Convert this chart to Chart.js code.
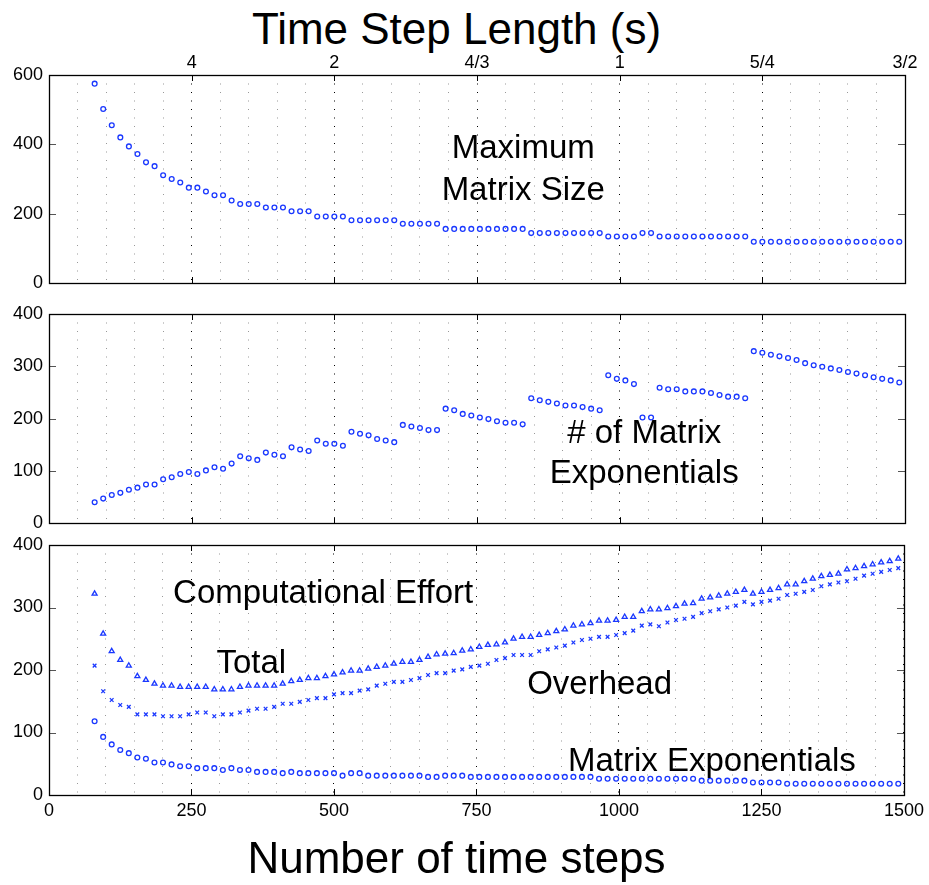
<!DOCTYPE html>
<html>
<head>
<meta charset="utf-8">
<script src="https://cdn.jsdelivr.net/npm/chart.js@4.4.1/dist/chart.umd.min.js"></script>
<style>
  body { margin: 0; background: #fff; width: 929px; height: 885px; position: relative; overflow: hidden;
         font-family: "Liberation Sans", Arial, sans-serif; }
  canvas { position: absolute; left: 0; }
  .big { position: absolute; width: 929px; text-align: center; font-size: 44px; line-height: 1; color: #000; }
</style>
</head>
<body>
<div class="big" style="top:7px; left:-8px">Time Step Length (s)</div>
<canvas id="c1" width="929" height="260" style="top:40px"></canvas>
<canvas id="c2" width="929" height="250" style="top:290px"></canvas>
<canvas id="c3" width="929" height="315" style="top:525px"></canvas>
<div class="big" style="top:836px; left:-8px">Number of time steps</div>

<script>
// number of time steps (shared by all three panels)
const steps = [80, 95, 110, 125, 140, 155, 170, 185, 200, 215, 230, 245, 260, 275, 290, 305, 320, 335, 350, 365,
  380, 395, 410, 425, 440, 455, 470, 485, 500, 515, 530, 545, 560, 575, 590, 605, 620, 635, 650, 665,
  680, 695, 710, 725, 740, 755, 770, 785, 800, 815, 830, 845, 860, 875, 890, 905, 920, 935, 950, 965,
  980, 995, 1010, 1025, 1040, 1055, 1070, 1085, 1100, 1115, 1130, 1145, 1160, 1175, 1190, 1205, 1220, 1235, 1250, 1265,
  1280, 1295, 1310, 1325, 1340, 1355, 1370, 1385, 1400, 1415, 1430, 1445, 1460, 1475, 1490];

const maxMatrixSize = [575, 502, 455, 420, 394, 372, 348, 337, 311, 300,
  290, 275, 275, 264, 253, 253, 238, 228, 228, 228,
  218, 218, 218, 207, 207, 207, 192, 192, 192, 192,
  181, 181, 181, 181, 181, 181, 171, 171, 171, 171,
  171, 156, 156, 156, 156, 156, 156, 156, 156, 156,
  156, 144, 144, 144, 144, 144, 144, 144, 144, 144,
  134, 134, 134, 134, 144, 144, 134, 134, 134, 134,
  134, 134, 134, 134, 134, 134, 134, 119, 119, 119,
  119, 119, 119, 119, 119, 119, 119, 119, 119, 119,
  119, 119, 119, 119, 119];

const numMatrixExp = [40, 47, 54, 58, 64, 68, 74, 74, 84, 88,
  94, 98, 94, 101, 107, 104, 114, 128, 124, 121,
  135, 131, 128, 145, 141, 138, 158, 152, 152, 148,
  175, 171, 168, 161, 158, 155, 188, 185, 182, 178,
  178, 219, 216, 209, 206, 202, 199, 195, 192, 192,
  189, 239, 235, 232, 229, 225, 225, 222, 219, 216,
  283, 276, 273, 266, 202, 202, 259, 256, 256, 252,
  252, 252, 249, 245, 242, 242, 239, 329, 326, 322,
  319, 316, 312, 306, 302, 299, 296, 293, 289, 286,
  283, 279, 276, 273, 269];

const effortTotal = [322, 258, 230, 216, 207, 190, 184, 178, 175, 175,
  173, 173, 173, 173, 169, 169, 169, 173, 175, 175,
  175, 175, 178, 182, 184, 187, 187, 190, 193, 196,
  199, 199, 202, 205, 207, 210, 213, 213, 216, 221,
  225, 226, 227, 231, 233, 237, 240, 241, 244, 250,
  253, 253, 256, 259, 262, 265, 271, 273, 275, 279,
  279, 280, 285, 285, 294, 297, 297, 299, 302, 306,
  307, 314, 316, 319, 322, 325, 328, 322, 325, 328,
  331, 337, 337, 342, 346, 350, 352, 354, 361, 363,
  366, 369, 372, 374, 378];

const effortOverhead = [207, 166, 152, 144, 141, 129, 129, 129, 126, 126,
  126, 129, 132, 132, 126, 129, 129, 132, 135, 138,
  138, 141, 146, 146, 149, 152, 155, 155, 161, 163,
  163, 167, 169, 175, 178, 181, 181, 184, 187, 192,
  195, 195, 199, 201, 205, 207, 210, 216, 219, 224,
  224, 224, 230, 233, 236, 239, 244, 248, 250, 253,
  253, 256, 259, 263, 271, 273, 270, 276, 280, 282,
  285, 291, 294, 297, 300, 303, 309, 305, 309, 311,
  314, 320, 322, 325, 328, 334, 337, 340, 342, 346,
  351, 354, 357, 360, 363];

const effortMatrixExp = [118, 93, 81, 72, 67, 60, 58, 52, 52, 49,
  46, 46, 43, 43, 43, 40, 43, 40, 40, 37,
  37, 37, 35, 37, 35, 35, 35, 35, 35, 31,
  35, 35, 31, 31, 31, 31, 31, 31, 31, 29,
  29, 31, 31, 31, 29, 29, 29, 29, 29, 29,
  29, 29, 29, 29, 29, 29, 29, 29, 29, 26,
  26, 26, 26, 26, 26, 26, 26, 26, 26, 26,
  26, 23, 23, 23, 23, 23, 23, 20, 20, 20,
  20, 18, 18, 18, 18, 18, 18, 18, 18, 18,
  18, 18, 18, 18, 18];

// top axis: time step length labels at 0, 250, ..., 1500
const topTickLabels = ['', '4', '2', '4/3', '1', '5/4', '3/2'];

const BLUE = '#1a38ff';
const FONT = '"Liberation Sans", Arial, sans-serif';
const tickFont = { family: FONT, size: 18 };

const pts = ys => steps.map((x, i) => ({ x: x, y: ys[i] }));

function series(ys, style, r) {
  return {
    data: pts(ys),
    pointStyle: style,
    pointRadius: r,
    borderColor: BLUE,
    backgroundColor: 'rgba(0,0,0,0)',
    pointBorderWidth: 1.3,
    showLine: false
  };
}

// frame, inward tick marks and in-plot labels
const framePlugin = {
  id: 'frame',
  afterDatasetsDraw(chart) {
    const { ctx, chartArea: a, scales } = chart;
    const ys = scales.y, xs = scales.x;
    ctx.save();
    ctx.strokeStyle = '#000';
    ctx.lineWidth = 1;
    // x ticks every 250, top and bottom
    for (let v = 250; v < 1500; v += 250) {
      const px = Math.round(xs.getPixelForValue(v)) + 0.5;
      ctx.beginPath();
      ctx.moveTo(px, a.bottom); ctx.lineTo(px, a.bottom - 6);
      ctx.moveTo(px, a.top); ctx.lineTo(px, a.top + 6);
      ctx.stroke();
    }
    ctx.strokeStyle = '#555';
    ys.ticks.forEach(t => {
      if (t.value === ys.min || t.value === ys.max) return;
      const py = Math.round(ys.getPixelForValue(t.value)) + 0.5;
      ctx.beginPath();
      ctx.moveTo(a.left, py); ctx.lineTo(a.left + 7, py);
      ctx.moveTo(a.right, py); ctx.lineTo(a.right - 7, py);
      ctx.stroke();
    });
    ctx.strokeStyle = '#000';
    ctx.lineWidth = 1.3;
    ctx.strokeRect(Math.round(a.left) + 0.5, Math.round(a.top) + 0.5,
      Math.round(a.right - a.left), Math.round(a.bottom - a.top));

    const notes = chart.options.plugins.frame.notes || [];
    ctx.fillStyle = '#000';
    ctx.font = '33px ' + FONT;
    ctx.textAlign = 'center';
    ctx.textBaseline = 'alphabetic';
    notes.forEach(n => {
      ctx.fillText(n.text, xs.getPixelForValue(n.x), ys.getPixelForValue(n.y));
    });
    ctx.restore();
  }
};

function xAxis(showLabels, height) {
  return {
    type: 'linear', position: 'bottom', min: 0, max: 1500,
    ticks: {
      stepSize: 50, autoSkip: false, maxRotation: 0, display: showLabels,
      font: tickFont, color: '#000', padding: 5,
      callback: v => (v % 250 === 0 ? String(v) : '')
    },
    grid: {
      drawTicks: false, lineWidth: 1,
      color: c => (c.tick && c.tick.value % 250 === 0 ? '#000' : '#999')
    },
    border: { display: false, dash: [1, 7.5] },
    afterFit: s => { s.height = height; }
  };
}

function yAxis(max, step) {
  return {
    min: 0, max: max,
    ticks: { stepSize: step, font: tickFont, color: '#000', padding: 6 },
    grid: { display: false, drawTicks: false },
    border: { display: false },
    afterFit: s => { s.width = 49; }
  };
}

function makeChart(id, datasets, scales, padding, notes) {
  return new Chart(document.getElementById(id), {
    type: 'scatter',
    data: { datasets: datasets },
    options: {
      responsive: false,
      animation: false,
      events: [],
      layout: { padding: padding },
      scales: scales,
      plugins: { legend: { display: false }, tooltip: { enabled: false }, frame: { notes: notes } }
    },
    plugins: [framePlugin]
  });
}

// panel 1: maximum matrix size, with the time step length axis on top
makeChart('c1', [series(maxMatrixSize, 'circle', 2.4)], {
  x: xAxis(false, 0),
  x2: {
    type: 'linear', position: 'top', min: 0, max: 1500,
    ticks: {
      stepSize: 250, autoSkip: false, maxRotation: 0, font: tickFont, color: '#000', padding: 1,
      callback: (v, i) => topTickLabels[i]
    },
    grid: { display: false, drawTicks: false },
    border: { display: false },
    afterFit: s => { s.height = 35; }
  },
  y: yAxis(600, 200)
}, { top: 0, bottom: 17, left: 0, right: 24 }, [
  { text: 'Maximum', x: 831, y: 361 },
  { text: 'Matrix Size', x: 831, y: 240 }
]);

// panel 2: number of matrix exponentials
makeChart('c2', [series(numMatrixExp, 'circle', 2.4)], {
  x: xAxis(false, 0),
  y: yAxis(400, 100)
}, { top: 24, bottom: 11, left: 0, right: 24 }, [
  { text: '# of Matrix', x: 1043, y: 153 },
  { text: 'Exponentials', x: 1043, y: 76 }
]);

// panel 3: computational effort
makeChart('c3', [
  series(effortTotal, 'triangle', 2.9),
  series(effortOverhead, 'crossRot', 2.6),
  series(effortMatrixExp, 'circle', 2.4)
], {
  x: xAxis(true, 45),
  y: yAxis(400, 100)
}, { top: 20, bottom: 0, left: 0, right: 24 }, [
  { text: 'Computational Effort', x: 481, y: 308 },
  { text: 'Total', x: 355, y: 195 },
  { text: 'Overhead', x: 966, y: 162 },
  { text: 'Matrix Exponentials', x: 1163, y: 39 }
]);
</script>
</body>
</html>
